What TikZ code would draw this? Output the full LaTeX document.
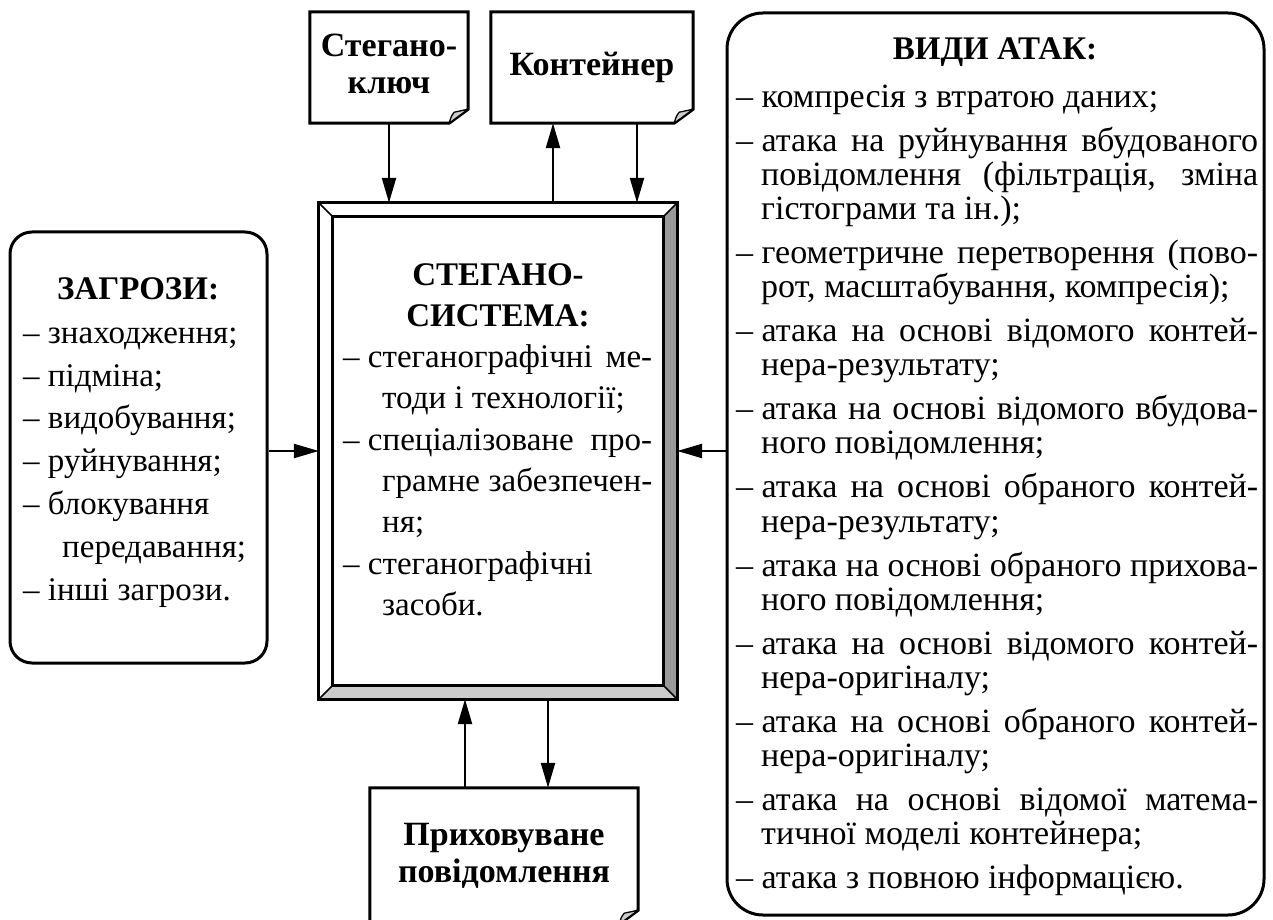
\documentclass[tikz,border=0pt]{standalone}
\usepackage{fontspec}
\setmainfont{Liberation Serif}
\usetikzlibrary{arrows.meta,positioning}

\newcommand{\bodyfont}{\fontsize{33}{38}\selectfont}
\newcommand{\atkfont}{\fontsize{34}{38}\selectfont}
\newcommand{\jline}[2]{\makebox[#1][s]{#2}}
\newcommand{\dsh}{–\hspace{0.25em}}
% sheet with a curled bottom-right corner
\newcommand{\docfold}[1]{%
  \draw[line width=3pt, line join=miter] (#1.north west) -- (#1.north east)
    -- ([yshift=14pt]#1.south east) -- ([xshift=-19pt]#1.south east)
    -- (#1.south west) -- cycle;
  \filldraw[line width=1.3pt, fill=gray!40, line join=round]
    ([xshift=-19pt]#1.south east) .. controls ([xshift=-17pt,yshift=7pt]#1.south east)
    .. ([xshift=-14pt,yshift=11pt]#1.south east) -- ([yshift=14pt]#1.south east) -- cycle;
}

\begin{document}
\begin{tikzpicture}[
  x=1pt, y=1pt,
  roundbox/.style={draw, line width=3pt, rounded corners=#1, inner sep=0pt},
  docbox/.style={inner sep=0pt, align=center, font=\fontsize{34}{37}\selectfont\bfseries},
  ln/.style={anchor=base west, inner sep=0pt, font=\bodyfont},
  atk/.style={anchor=base west, inner sep=0pt, font=\atkfont},
  hd/.style={anchor=base, inner sep=0pt, font=\bodyfont\bfseries},
  arrow/.style={-{Triangle[length=25pt,width=14pt]}, line width=2.3pt}
]
\useasboundingbox (0,0) rectangle (1273,919);
\clip (0,0) rectangle (1273,919);

% Boxes
\node[roundbox=22pt, minimum width=257pt, minimum height=431pt] (threats) at (138.5,471.5) {};
\node[roundbox=36pt, minimum width=537pt, minimum height=902pt] (attacks) at (995.5,455) {};
\node[minimum width=358pt, minimum height=496pt, inner sep=0pt] (sys) at (498,468) {};
\node[docbox, minimum width=158pt, minimum height=111pt] (key) at (389,851.5) {Стегано-\\ключ\rule[-8pt]{0pt}{8pt}};
\node[docbox, minimum width=202pt, minimum height=111pt] (cont) at (592,851.5) {Контейнер};
\node[docbox, minimum width=268pt, minimum height=136pt] (hidden) at (504,63) {Приховуване\\повідомлення};

\docfold{key}
\docfold{cont}
\docfold{hidden}

% bevelled frame of the system
\fill[gray!80] (sys.north east) -- (sys.south east) -- ([shift={(-14,14)}]sys.south east)
  -- ([shift={(-14,-14)}]sys.north east) -- cycle;
\fill[gray!40] (sys.south west) -- (sys.south east) -- ([shift={(-14,14)}]sys.south east)
  -- ([shift={(14,14)}]sys.south west) -- cycle;
\draw[line width=3pt] (sys.south west) rectangle (sys.north east);
\draw[line width=3pt] ([shift={(14,14)}]sys.south west) rectangle ([shift={(-14,-14)}]sys.north east);
\foreach \c/\d in {south west/{14,14}, south east/{-14,14}, north east/{-14,-14}, north west/{14,-14}}
  \draw[line width=1.6pt] (sys.\c) -- ([shift={(\d)}]sys.\c);

% Arrows
\coordinate (cout) at ([xshift=-39pt]cont.south);
\coordinate (cin) at ([xshift=45pt]cont.south);
\coordinate (hin) at ([xshift=-39pt]hidden.north);
\coordinate (hout) at ([xshift=44pt]hidden.north);
\draw[arrow] (key.south) -- (key.south |- sys.north);
\draw[arrow] (cout |- sys.north) -- (cout);
\draw[arrow] (cin) -- (cin |- sys.north);
\draw[arrow] (hin) -- (hin |- sys.south);
\draw[arrow] (hout |- sys.south) -- (hout);
\draw[arrow] (threats.east |- sys.west) -- (sys.west);
\draw[arrow] (attacks.west |- sys.east) -- (sys.east);

% Threats
\node[hd] (t0) at (138,619) {ЗАГРОЗИ:};
\node[ln] (t1) at (23,575) {\dsh знаходження;};
\node[ln] (t2) at (23,532) {\dsh підміна;};
\node[ln] (t3) at (23,490) {\dsh видобування;};
\node[ln] (t4) at (23,447) {\dsh руйнування;};
\node[ln] (t5) at (23,404) {\dsh блокування};
\node[ln] (t6) at (62,362) {передавання;};
\node[ln] (t7) at (23,319) {\dsh інші загрози.};

% Stegosystem
\node[hd] (s0) at (498,633) {СТЕГАНО-};
\node[hd] (s00) at (498,592) {СИСТЕМА:};
\node[ln] (s1) at (343,551) {\jline{309pt}{\dsh стеганографічні ме-}};
\node[ln] (s2) at (382,510) {тоди і технології;};
\node[ln] (s3) at (343,468) {\jline{309pt}{\dsh спеціалізоване про-}};
\node[ln] (s4) at (382,427) {\jline{270pt}{грамне забезпечен-}};
\node[ln] (s5) at (382,386) {ня;};
\node[ln] (s6) at (343,345) {\dsh стеганографічні};
\node[ln] (s7) at (382,304) {засоби.};

% Attacks
\node[hd] (a0) at (995,859) {ВИДИ АТАК:};
\node[atk] (a1) at (736,811) {\dsh компресія з втратою даних;};
\node[atk] (a2) at (736,767) {\jline{522pt}{\dsh атака на руйнування вбудованого}};
\node[atk] (a3) at (761,733) {\jline{497pt}{повідомлення (фільтрація, зміна}};
\node[atk] (a4) at (761,699) {гістограми та ін.);};
\node[atk] (a5) at (736,655) {\jline{522pt}{\dsh геометричне перетворення (пово-}};
\node[atk] (a6) at (761,621) {рот, масштабування, компресія);};
\node[atk] (a7) at (736,577) {\jline{522pt}{\dsh атака на основі відомого контей-}};
\node[atk] (a8) at (761,543) {нера-результату;};
\node[atk] (a9) at (736,499) {\jline{522pt}{\dsh атака на основі відомого вбудова-}};
\node[atk] (a10) at (761,465) {ного повідомлення;};
\node[atk] (a11) at (736,421) {\jline{522pt}{\dsh атака на основі обраного контей-}};
\node[atk] (a12) at (761,387) {нера-результату;};
\node[atk] (a13) at (736,343) {\jline{522pt}{\dsh атака на основі обраного прихова-}};
\node[atk] (a14) at (761,309) {ного повідомлення;};
\node[atk] (a15) at (736,265) {\jline{522pt}{\dsh атака на основі відомого контей-}};
\node[atk] (a16) at (761,231) {нера-оригіналу;};
\node[atk] (a17) at (736,187) {\jline{522pt}{\dsh атака на основі обраного контей-}};
\node[atk] (a18) at (761,153) {нера-оригіналу;};
\node[atk] (a19) at (736,109) {\jline{522pt}{\dsh атака на основі відомої матема-}};
\node[atk] (a20) at (761,75) {тичної моделі контейнера;};
\node[atk] (a21) at (736,31) {\dsh атака з повною інформацією.};

\end{tikzpicture}
\end{document}
